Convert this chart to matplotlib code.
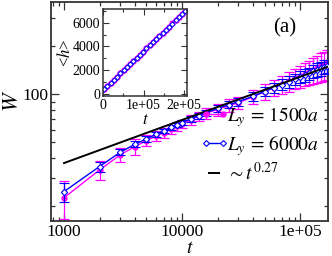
import matplotlib
matplotlib.use("Agg")
import matplotlib.pyplot as plt
from matplotlib.ticker import FixedLocator, FixedFormatter, NullFormatter, LogLocator, MultipleLocator
from matplotlib.lines import Line2D
from matplotlib.legend_handler import HandlerLine2D

plt.rcParams['font.family'] = ['Liberation Serif', 'DejaVu Serif']
plt.rcParams['mathtext.fontset'] = 'stix'

# ---- main data ----
t = [1000, 2000, 3000, 4000, 5000, 6000, 7000, 8000, 9000, 10000,
     12000, 14000, 16000, 20000, 25000, 30000, 40000, 50000, 60000, 70000,
     80000, 90000, 100000, 110000, 120000, 130000, 140000, 150000, 160000, 170000]
W_1500 = [22.5, 33.6, 41.8, 47.1, 51.3, 54.8, 57.5, 60.5, 63.0, 65.5,
          69.5, 73.0, 76.0, 80.5, 85.0, 88.5, 96.5, 104.0, 110.0, 116.0,
          121.0, 126.0, 130.0, 134.0, 138.0, 142.0, 146.0, 150.0, 153.0, 156.0]
err_1500 = [6.0, 4.5, 4.0, 5.5, 4.0, 4.0, 4.0, 4.0, 4.0, 4.0,
            5.0, 5.0, 6.0, 7.0, 8.0, 8.0, 10.0, 12.0, 13.0, 15.0,
            17.0, 18.0, 20.0, 22.0, 24.0, 26.0, 28.0, 30.0, 32.0, 34.0]
W_6000 = [24.6, 35.3, 43.4, 48.7, 52.5, 56.2, 59.0, 62.0, 64.5, 66.5,
          70.5, 73.5, 76.5, 81.5, 86.0, 90.0, 97.0, 104.0, 110.0, 115.0,
          120.0, 124.0, 128.0, 132.0, 135.0, 139.0, 142.0, 145.0, 148.0, 150.0]
err_6000 = [3.4, 2.5, 2.0, 2.0, 2.0, 2.0, 2.0, 2.0, 2.0, 2.5,
            3.0, 3.0, 3.5, 4.0, 4.5, 5.0, 6.0, 7.0, 8.0, 9.0,
            10.0, 10.0, 11.0, 12.0, 12.0, 13.0, 14.0, 14.0, 15.0, 15.0]
t_fit = [1000, 172000]
W_fit = [37.1, 148.8]

# ---- inset data ----
t_in = [3000, 11000, 19000, 27000, 35000, 43000, 51000, 59000, 67000, 75000,
        83000, 91000, 99000, 107000, 115000, 123000, 131000, 139000, 147000,
        155000, 163000, 171000, 179000, 187000, 195000, 203000]
h_1500 = [420, 682, 945, 1206, 1470, 1731, 1995, 2256, 2519, 2781,
          3044, 3306, 3569, 3830, 4094, 4355, 4619, 4880, 5143, 5405,
          5668, 5930, 6193, 6455, 6718, 6980]
h_6000 = [417, 680, 942, 1204, 1467, 1729, 1992, 2254, 2516, 2779,
          3041, 3304, 3566, 3828, 4091, 4353, 4616, 4878, 5140, 5403,
          5665, 5928, 6190, 6452, 6715, 6977]

MAG = '#ff00ff'
BLU = '#0000ff'

fig = plt.figure(figsize=(3.32, 2.56), dpi=100)
ax = fig.add_axes([51/332, 1-221/256, 277/332, 219/256])

ax.errorbar(t, W_1500, yerr=err_1500, color=MAG, ecolor=MAG, elinewidth=0.9,
            capsize=3.5, capthick=0.9, lw=1.0, marker='o', ms=3.5,
            mfc=MAG, mec=MAG, zorder=2)
ax.errorbar(t, W_6000, yerr=err_6000, color=BLU, ecolor=BLU, elinewidth=0.9,
            capsize=3.5, capthick=0.9, lw=1.0, marker='D', ms=3.2,
            mfc='white', mec=BLU, mew=0.8, zorder=3)
ax.plot(t_fit, W_fit, color='black', lw=1.4, zorder=4)

ax.set_xscale('log')
ax.set_yscale('log')
ax.set_xlim(776, 172600)
ax.set_ylim(16.1, 378)

ax.xaxis.set_major_locator(FixedLocator([1000, 10000, 100000]))
ax.xaxis.set_major_formatter(FixedFormatter(['1000', '10000', '1e+05']))
ax.xaxis.set_minor_locator(LogLocator(base=10, subs=range(2, 10), numticks=20))
ax.xaxis.set_minor_formatter(NullFormatter())
ax.yaxis.set_major_locator(FixedLocator([100]))
ax.yaxis.set_major_formatter(FixedFormatter(['100']))
ax.yaxis.set_minor_locator(LogLocator(base=10, subs=range(2, 10), numticks=20))
ax.yaxis.set_minor_formatter(NullFormatter())

ax.tick_params(which='both', direction='in', top=True, right=True, width=0.9,
               color='#333333')
ax.tick_params(which='major', length=6, labelsize=12.5, pad=2)
ax.tick_params(which='minor', length=3)
for s in ax.spines.values():
    s.set_linewidth(1.3)
    s.set_color('#333333')

ax.set_xlabel(r'$t$', fontsize=14, labelpad=0)
ax.set_ylabel(r'$W$', fontsize=16, rotation=90)
ax.yaxis.set_label_coords(-0.1, 0.55)

ax.text(0.845, 0.88, '(a)', transform=ax.transAxes, fontsize=15,
        ha='center', va='center')

h1 = Line2D([], [], color=MAG, lw=1.0, marker='o', ms=3.5, mfc=MAG, mec=MAG)
h2 = Line2D([], [], color=BLU, lw=1.0, marker='D', ms=3.0, mfc='white', mec=BLU, mew=0.8)
h3 = Line2D([], [], color='black', lw=0, marker='_', ms=8, mew=1.4)
leg = ax.legend([h1, h2, h3],
                [r'$L_y\,=\,1500a$', r'$L_y\,=\,6000a$', r'$\sim t^{0.27}$'],
                loc='upper left', bbox_to_anchor=(0.553, 0.53), frameon=False,
                fontsize=14, numpoints=2, handlelength=1.05, handletextpad=0.12,
                borderpad=0, borderaxespad=0, labelspacing=0.2,
                handler_map={h1: HandlerLine2D(marker_pad=0.1),
                             h2: HandlerLine2D(marker_pad=0.1),
                             h3: HandlerLine2D(numpoints=1)})

# ---- inset ----
axi = fig.add_axes([103/332, 1-96/256, 84/332, 87/256])
axi.plot(t_in, h_1500, color=MAG, lw=1.0, marker='o', ms=3.6, mfc=MAG, mec=MAG)
axi.plot(t_in, h_6000, color=BLU, lw=0.8, marker='D', ms=2.6, mfc='white', mec=BLU, mew=0.7)
axi.set_xlim(0, 207000)
axi.set_ylim(-170, 7150)
axi.xaxis.set_major_locator(FixedLocator([0, 100000, 200000]))
axi.xaxis.set_major_formatter(FixedFormatter(['0', '1e+05', '2e+05']))
axi.xaxis.set_minor_locator(MultipleLocator(50000))
axi.yaxis.set_major_locator(MultipleLocator(2000))
axi.yaxis.set_minor_locator(MultipleLocator(1000))
axi.tick_params(which='both', direction='in', top=True, right=True, width=0.8,
                color='#333333')
axi.tick_params(which='major', length=4, labelsize=10, pad=2)
axi.tick_params(which='minor', length=2)
for s in axi.spines.values():
    s.set_linewidth(1.1)
    s.set_color('#333333')
axi.set_xlabel(r'$t$', fontsize=12, labelpad=0)
axi.set_ylabel(r'<$h$>', fontsize=12, labelpad=-1)

fig.savefig('out.png', dpi=100)
